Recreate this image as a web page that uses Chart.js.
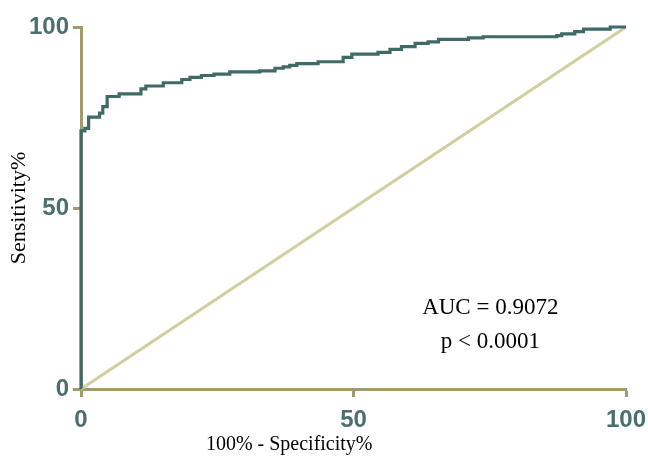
<!DOCTYPE html>
<html>
<head>
<meta charset="utf-8">
<script src="https://cdn.jsdelivr.net/npm/chart.js@4.4.0/dist/chart.umd.min.js"></script>
<style>
  html, body { margin: 0; padding: 0; background: #fff; }
  #wrap { width: 648px; height: 458px; }
</style>
</head>
<body>
<div id="wrap"><canvas id="rocChart" width="648" height="458"></canvas></div>
<script>
// ROC curve: 100% - Specificity% (x) vs Sensitivity% (y), steps
const rocX = [0, 0, 0.7, 1.4, 3.4, 4.0, 4.8, 7.0, 11.0, 11.9, 15.1, 18.5, 20.0, 22.1, 24.4, 27.3, 32.8, 35.6, 37.1, 38.3, 39.6, 43.5, 48.1, 49.7, 54.5, 56.7, 58.8, 61.3, 63.7, 65.6, 71.1, 73.8, 87.3, 88.2, 90.6, 92.2, 97.1, 100];
const rocY = [0, 71.3, 72.0, 75.1, 76.2, 78.0, 80.8, 81.5, 82.9, 83.7, 84.6, 85.5, 86.1, 86.6, 87.0, 87.6, 87.9, 88.6, 89.0, 89.4, 89.9, 90.4, 91.6, 92.5, 93.0, 93.8, 94.6, 95.5, 95.9, 96.6, 97.0, 97.3, 97.6, 98.1, 98.7, 99.4, 100, 100];

// reference line
const diagX = [0, 100];
const diagY = [0, 100];

const tickValues = [0, 50, 100];
const aucText = 'AUC = 0.9072';
const pText = 'p < 0.0001';

const axisColor = '#a09b6b';
const tickTextColor = '#4b6f6d';
const curveColor = '#3e6b66';
const diagColor = '#cfcf9f';

// textes supplémentaires (titre X décalé + AUC)
const extraText = {
    id: 'extraText',
    afterDraw(chart) {
        const ctx = chart.ctx;
        const x = chart.scales.x;
        const y = chart.scales.y;
        ctx.save();
        ctx.fillStyle = '#000';
        ctx.textAlign = 'center';
        ctx.textBaseline = 'middle';
        ctx.font = '23px "Liberation Serif", "Times New Roman", serif';
        ctx.fillText(aucText, x.getPixelForValue(75.1), y.getPixelForValue(22.4));
        ctx.fillText(pText, x.getPixelForValue(75.1), y.getPixelForValue(12.9));
        ctx.font = '20px "Liberation Serif", "Times New Roman", serif';
        ctx.fillText('100% - Specificity%', x.getPixelForValue(38.2), 445);
        ctx.restore();
    }
};

const points = (xs, ys) => xs.map((v, i) => ({ x: v, y: ys[i] }));

new Chart(document.getElementById('rocChart').getContext('2d'), {
    type: 'scatter',
    data: {
        datasets: [{
            label: 'ROC',
            data: points(rocX, rocY),
            showLine: true,
            stepped: 'before',
            borderColor: curveColor,
            borderWidth: 3.2,
            pointRadius: 0,
            clip: false
        }, {
            label: 'Reference',
            data: points(diagX, diagY),
            showLine: true,
            borderColor: diagColor,
            borderWidth: 3,
            pointRadius: 0,
            clip: false
        }]
    },
    options: {
        responsive: false,
        animation: false,
        layout: { padding: { left: 0, right: 22, top: 27, bottom: 0 } },
        plugins: {
            legend: { display: false },
            tooltip: { enabled: false }
        },
        scales: {
            x: {
                type: 'linear',
                min: 0,
                max: 100,
                afterFit: s => { s.height = 69; s.paddingLeft = 0; s.paddingRight = 0; },
                afterBuildTicks: s => { s.ticks = tickValues.map(v => ({ value: v })); },
                border: { display: true, color: axisColor, width: 3 },
                grid: { display: true, drawOnChartArea: false, drawTicks: true, tickLength: 8, tickColor: axisColor, tickWidth: 3 },
                ticks: {
                    padding: 9,
                    color: tickTextColor,
                    font: { family: '"Liberation Sans", Arial, sans-serif', size: 24, weight: 'bold' }
                },
                title: { display: false }
            },
            y: {
                type: 'linear',
                min: 0,
                max: 100,
                afterFit: s => { s.width = 81; s.paddingTop = 0; s.paddingBottom = 0; },
                afterBuildTicks: s => { s.ticks = tickValues.map(v => ({ value: v })); },
                border: { display: true, color: axisColor, width: 3 },
                grid: { display: true, drawOnChartArea: false, drawTicks: true, tickLength: 8, tickColor: axisColor, tickWidth: 3 },
                ticks: {
                    padding: 4,
                    color: tickTextColor,
                    font: { family: '"Liberation Sans", Arial, sans-serif', size: 24, weight: 'bold' }
                },
                title: {
                    display: true,
                    text: 'Sensitivity%',
                    color: '#000',
                    padding: { top: 6, bottom: 0 },
                    font: { family: '"Liberation Serif", "Times New Roman", serif', size: 22 }
                }
            }
        }
    },
    plugins: [extraText]
});
</script>
</body>
</html>
